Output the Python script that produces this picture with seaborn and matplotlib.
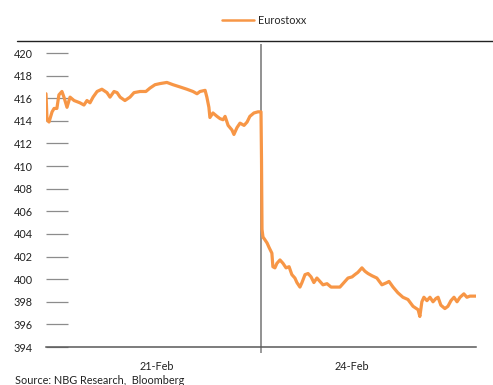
import matplotlib
matplotlib.use("Agg")
import matplotlib.pyplot as plt
from matplotlib.lines import Line2D
import numpy as np
import pandas as pd
import seaborn as sns

# Eurostoxx intraday, trading hours since the 21-Feb open (each session 8.5 h)
hours_21feb = [0.00, 0.04, 0.12, 0.24, 0.32, 0.43, 0.51, 0.63, 0.71, 0.83,
               0.95, 1.11, 1.34, 1.50, 1.62, 1.74, 1.86, 2.02, 2.21, 2.41,
               2.53, 2.69, 2.81, 2.93, 3.12, 3.32, 3.48, 3.72, 3.95, 4.11,
               4.31, 4.51, 4.78, 5.02, 5.30, 5.57, 5.81, 5.97, 6.09, 6.29,
               6.36, 6.44, 6.48, 6.60, 6.76, 6.88, 7.00, 7.08, 7.20, 7.35,
               7.43, 7.55, 7.67, 7.83, 7.95, 8.06, 8.22, 8.38, 8.50]
values_21feb = [416.4, 414.1, 413.9, 414.8, 415.1, 415.1, 416.3, 416.6, 416.1, 415.2,
                416.1, 415.8, 415.6, 415.4, 415.8, 415.6, 416.1, 416.6, 416.8, 416.5,
                416.1, 416.6, 416.5, 416.1, 415.8, 416.1, 416.5, 416.6, 416.6, 416.9,
                417.2, 417.3, 417.4, 417.2, 417.0, 416.8, 416.6, 416.4, 416.6, 416.7,
                416.1, 415.2, 414.3, 414.7, 414.4, 414.2, 414.1, 414.4, 413.6, 413.2,
                412.8, 413.4, 413.8, 413.6, 413.9, 414.4, 414.7, 414.8, 414.8]

hours_24feb = [8.52, 8.54, 8.58, 8.62, 8.74, 8.82, 8.93, 8.97, 9.05, 9.13,
               9.25, 9.37, 9.49, 9.61, 9.72, 9.84, 9.92, 10.04, 10.12, 10.24,
               10.36, 10.48, 10.59, 10.71, 10.83, 10.95, 11.11, 11.27, 11.42, 11.62,
               11.78, 11.94, 12.10, 12.21, 12.33, 12.49, 12.61, 12.73, 12.89, 13.08,
               13.28, 13.48, 13.56, 13.72, 13.91, 14.11, 14.31, 14.51, 14.71, 14.78,
               14.86, 14.94, 15.06, 15.18, 15.30, 15.42, 15.50, 15.61, 15.77, 15.89,
               16.01, 16.13, 16.25, 16.37, 16.52, 16.64, 16.76, 17.00]
values_24feb = [410.6, 404.4, 403.7, 403.6, 403.2, 402.8, 402.3, 401.1, 401.0, 401.4,
                401.7, 401.4, 401.0, 401.1, 400.4, 400.1, 399.7, 399.3, 399.7, 400.4,
                400.5, 400.2, 399.7, 400.1, 399.8, 399.5, 399.6, 399.3, 399.3, 399.3,
                399.7, 400.1, 400.2, 400.4, 400.6, 401.0, 400.7, 400.5, 400.3, 400.1,
                399.5, 399.7, 399.8, 399.3, 398.8, 398.4, 398.2, 397.6, 397.3, 396.7,
                398.0, 398.4, 398.1, 398.4, 398.0, 398.3, 398.4, 397.7, 397.4, 397.6,
                398.1, 398.4, 398.0, 398.4, 398.7, 398.4, 398.5, 398.5]

day_labels = ["21-Feb", "24-Feb"]
day_label_pos = [4.39, 12.10]
session_break = 8.5
y_ticks = list(range(394, 421, 2))

series_name = "Eurostoxx"
line_color = "#F79646"

df = pd.DataFrame({
    "hours": hours_21feb + hours_24feb,
    "value": values_21feb + values_24feb,
})

sns.set_style("white")
plt.rcParams["font.family"] = ["Lato", "DejaVu Sans"]

W, H = 493, 385
fig = plt.figure(figsize=(W / 100, H / 100), dpi=100)
ax = fig.add_axes([46 / W, 1 - 347 / H, 430 / W, (347 - 44) / H])

sns.lineplot(data=df, x="hours", y="value", ax=ax, color=line_color,
             linewidth=2.3, legend=False, zorder=3)

ax.axvline(session_break, color="#7f7f7f", linewidth=1.2, zorder=2)

ax.set_xlim(0, 17.0)
ax.set_ylim(394, 420.8)
ax.set_xlabel("")
ax.set_ylabel("")

for side in ["left", "right", "top"]:
    ax.spines[side].set_visible(False)
ax.spines["bottom"].set_color("#595959")
ax.spines["bottom"].set_linewidth(1.1)

ax.set_yticks(y_ticks)
ax.tick_params(axis="y", left=True, direction="in", length=16, width=0.9,
               color="#8c8c8c", pad=9.5, labelsize=7.8, labelcolor="#222222")

# tick mark at the session break, day labels centred on each session
ax.set_xticks([session_break])
ax.set_xticklabels([""])
ax.tick_params(axis="x", which="major", bottom=True, direction="out", length=4,
               width=1.1, color="#7f7f7f")
ax.set_xticks(day_label_pos, minor=True)
ax.set_xticklabels(day_labels, minor=True)
ax.tick_params(axis="x", which="minor", bottom=True, length=0, pad=10,
               labelsize=7.8, labelcolor="#222222")

# rule under the legend
fig.add_artist(Line2D([17 / W, 1.0], [1 - 41 / H, 1 - 41 / H],
                      color="#222222", linewidth=1.0))

handle = Line2D([], [], color=line_color, linewidth=1.8)
fig.legend([handle], [series_name], loc="center",
           bbox_to_anchor=(264 / W, 1 - 20 / H), frameon=False,
           fontsize=7.8, handlelength=3.0, handletextpad=0.35)

fig.text(15 / W, 1 - 380 / H, "Source: NBG Research,  Bloomberg",
         fontsize=7.8, color="#222222", va="center", ha="left")

fig.savefig("out.png", dpi=100)
